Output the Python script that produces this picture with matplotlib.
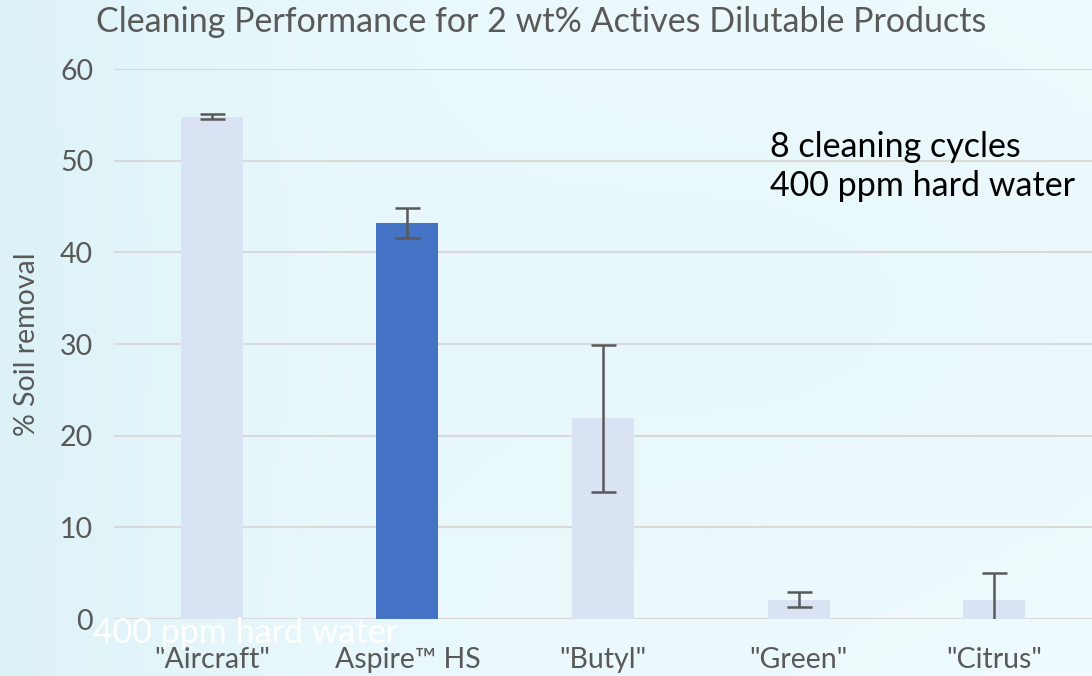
import numpy as np
import matplotlib
matplotlib.use("Agg")
import matplotlib.pyplot as plt

# data
products = ['"Aircraft"', 'Aspire\u2122 HS', '"Butyl"', '"Green"', '"Citrus"']
soil_removal = [54.8, 43.2, 21.9, 2.1, 2.1]
soil_error = [0.3, 1.6, 8.0, 0.8, 2.9]
bar_colors = ['#DAE3F3', '#4472C4', '#DAE3F3', '#DAE3F3', '#DAE3F3']
y_ticks = [0, 10, 20, 30, 40, 50, 60]

plt.rcParams['font.family'] = ['Lato', 'DejaVu Sans']
text_grey = '#595959'

fig = plt.figure(figsize=(10.92, 6.76), dpi=100)

# light cyan background imitating the slide picture
bg = fig.add_axes([0, 0, 1, 1], zorder=-10)
gx = np.linspace(0, 1, 200)
gy = np.linspace(0, 1, 200)
X, Y = np.meshgrid(gx, gy)
shade = 0.55 * np.exp(-X * 3.0) + 0.15 * np.exp(-((X - 0.75) ** 2 + (Y - 0.55) ** 2) * 8)
c_light = np.array([0.94, 0.985, 0.995])
c_dark = np.array([0.80, 0.92, 0.95])
img = c_light[None, None, :] * (1 - shade[..., None]) + c_dark[None, None, :] * shade[..., None]
bg.imshow(img, aspect='auto', extent=[0, 1, 0, 1], origin='lower')
bg.set_axis_off()

ax = fig.add_axes([0.1044, 0.0843, 0.8956, 0.8136])
ax.patch.set_alpha(0)
x = np.arange(len(products))
ax.bar(x, soil_removal, width=0.316, color=bar_colors, zorder=2)
ax.errorbar(x, soil_removal, yerr=soil_error, fmt='none', ecolor=text_grey,
            elinewidth=1.8, capsize=9, capthick=1.8, zorder=3)

ax.set_xlim(-0.5, 4.5)
ax.set_ylim(0, 60)
ax.set_yticks(y_ticks)
ax.set_xticks(x)
ax.set_xticklabels(products)
ax.yaxis.grid(True, color='#D9D9D9', linewidth=1.5, zorder=0)
ax.set_axisbelow(True)
for s in ax.spines.values():
    s.set_visible(False)
ax.tick_params(axis='both', length=0, labelsize=20.5, colors=text_grey)
ax.tick_params(axis='x', pad=20)
ax.tick_params(axis='y', pad=15)
ax.set_ylabel('% Soil removal', fontsize=20.5, color=text_grey, labelpad=14)

fig.text(0.496, 0.968, 'Cleaning Performance for 2 wt% Actives Dilutable Products',
         ha='center', va='center', fontsize=24.5, color=text_grey)
fig.text(0.705, 0.754, '8 cleaning cycles\n400 ppm hard water', ha='left', va='center',
         fontsize=24.5, color='black', linespacing=1.28)
fig.text(0.085, 0.064, '400 ppm hard water', ha='left', va='center',
         fontsize=24.5, color='white')

fig.savefig('out.png', dpi=100)
